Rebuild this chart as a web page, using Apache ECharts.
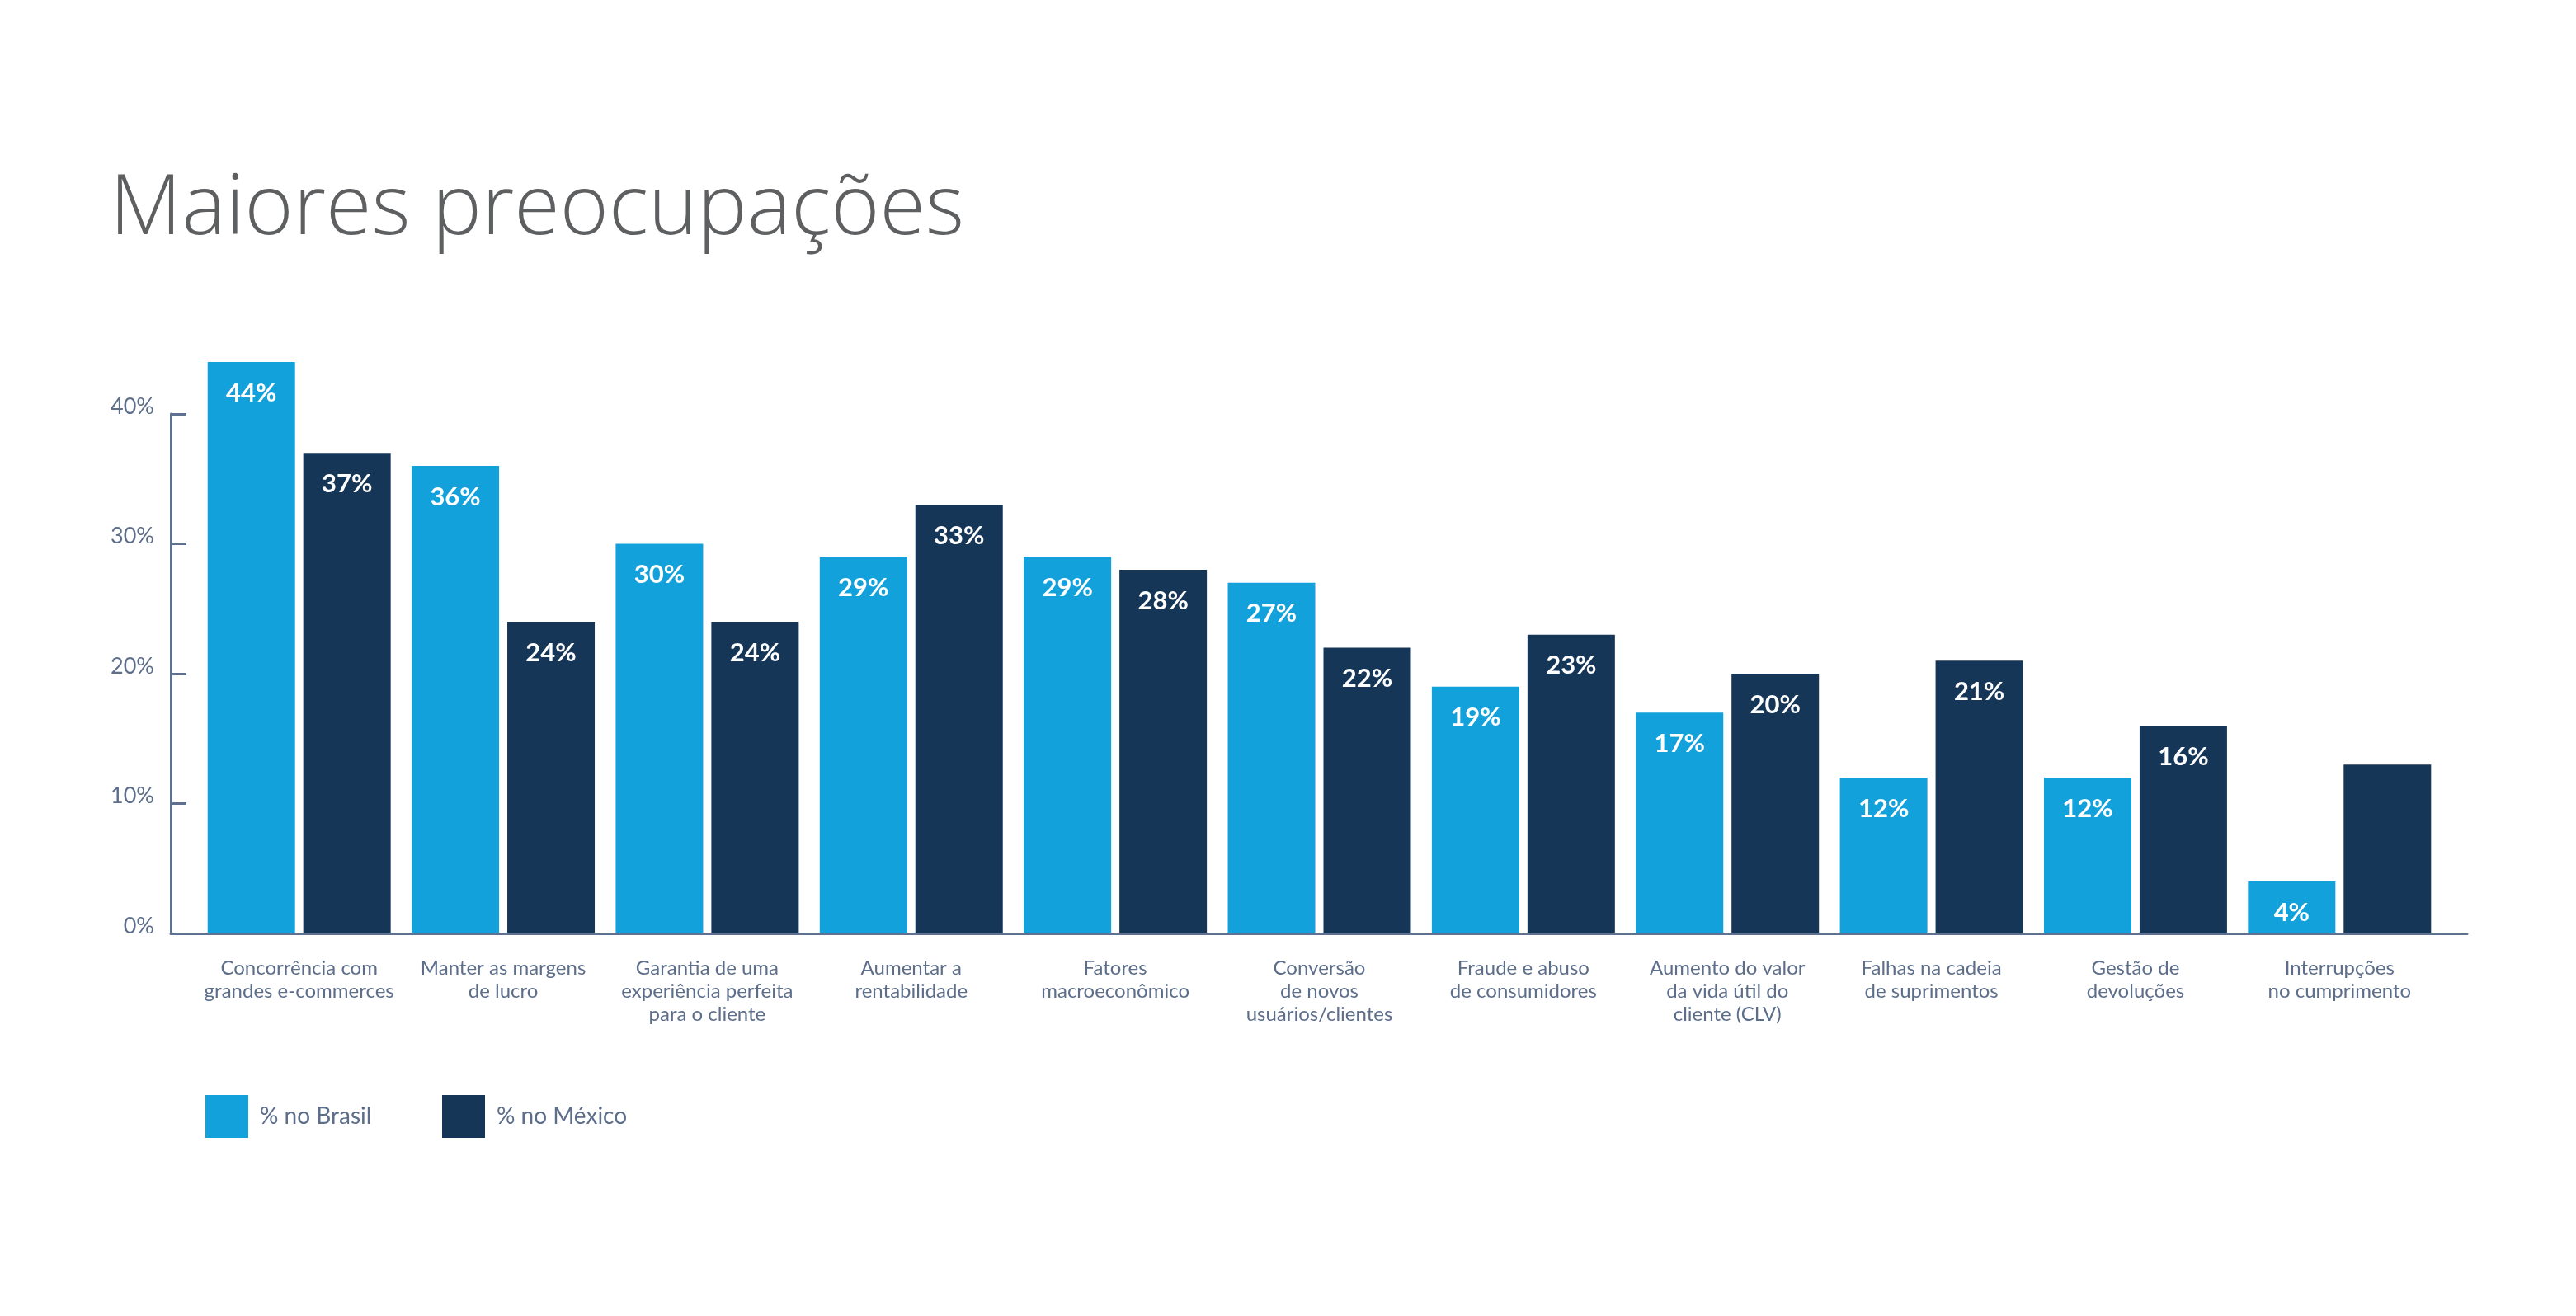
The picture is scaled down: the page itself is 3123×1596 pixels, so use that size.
<!DOCTYPE html>
<html>
<head>
<meta charset="utf-8">
<script src="https://cdn.jsdelivr.net/npm/echarts@6/dist/echarts.min.js"></script>
<style>
html,body{margin:0;padding:0;background:#fff;}
#chart{width:3123px;height:1596px;}
</style>
</head>
<body>
<div id="chart"></div>
<script>
const titleText = 'Maiores preocupações';
const categories = [
  'Concorrência com\ngrandes e-commerces',
  'Manter as margens\nde lucro',
  'Garantia de uma\nexperiência perfeita\npara o cliente',
  'Aumentar a\nrentabilidade',
  'Fatores\nmacroeconômico',
  'Conversão\nde novos\nusuários/clientes',
  'Fraude e abuso\nde consumidores',
  'Aumento do valor\nda vida útil do\ncliente (CLV)',
  'Falhas na cadeia\nde suprimentos',
  'Gestão de\ndevoluções',
  'Interrupções\nno cumprimento'
];
const seriesNames = ['% no Brasil', '% no México'];
const brasilValues = [44, 36, 30, 29, 29, 27, 19, 17, 12, 12, 4];
const mexicoValues = [37, 24, 24, 33, 28, 22, 23, 20, 21, 16, 13];
const mexicoUnlabeled = [10];
const yTicks = [0, 10, 20, 30, 40];

const C_BR = '#13a1db';
const C_MX = '#163657';
const C_AXIS = '#5f7090';
const C_TXT = '#5d6e8a';

const chart = echarts.init(document.getElementById('chart'), null, {renderer: 'canvas'});

const labelStyle = {
  show: true,
  position: 'insideTop',
  distance: 22,
  color: '#ffffff',
  fontFamily: 'Lato',
  fontWeight: 'bold',
  fontSize: 31,
  formatter: p => p.value + '%'
};

const legendText = {fontFamily: 'Lato', fontSize: 28, color: C_TXT, padding: [0, 0, 0, 9]};

const option = {
  animation: false,
  backgroundColor: '#ffffff',
  title: {
    text: titleText,
    left: 128,
    top: 200,
    textStyle: {
      fontFamily: 'Open Sans',
      fontWeight: 300,
      fontSize: 101,
      color: '#5e5f61'
    }
  },
  legend: [
    {
      data: [seriesNames[0]],
      left: 244, top: 1323,
      itemWidth: 52, itemHeight: 52,
      icon: 'rect',
      textStyle: legendText
    },
    {
      data: [seriesNames[1]],
      left: 531, top: 1323,
      itemWidth: 52, itemHeight: 52,
      icon: 'rect',
      textStyle: legendText
    }
  ],
  grid: [
    {left: 207, top: 502, width: 2784, height: 630},
    {left: 239, top: 502, width: 2721, height: 630}
  ],
  xAxis: [
    {
      gridIndex: 0, type: 'category', data: [''],
      axisLine: {show: true, lineStyle: {color: C_AXIS, width: 3}},
      axisTick: {show: false}, axisLabel: {show: false}
    },
    {
      gridIndex: 1, type: 'category', data: categories,
      axisLine: {show: false}, axisTick: {show: false},
      axisLabel: {
        interval: 0, margin: 28,
        fontFamily: 'Lato', fontSize: 24, lineHeight: 28, color: C_TXT, align: 'center'
      }
    }
  ],
  yAxis: [
    {
      gridIndex: 0, type: 'value', min: yTicks[0], max: yTicks[yTicks.length - 1], interval: 10,
      axisLine: {show: true, lineStyle: {color: C_AXIS, width: 3}},
      axisTick: {show: true, inside: true, length: 19, lineStyle: {color: C_AXIS, width: 3}},
      splitLine: {show: false},
      axisLabel: {
        margin: 20, fontFamily: 'Lato', fontSize: 27, color: C_TXT,
        verticalAlign: 'bottom', lineHeight: 18,
        formatter: v => v + '%'
      }
    },
    {
      gridIndex: 1, type: 'value', min: yTicks[0], max: yTicks[yTicks.length - 1], interval: 10,
      show: false
    }
  ],
  series: [
    {
      name: seriesNames[0], type: 'bar', xAxisIndex: 1, yAxisIndex: 1,
      barWidth: 106, barGap: '9.4%', clip: false,
      itemStyle: {color: C_BR},
      label: labelStyle,
      data: brasilValues
    },
    {
      name: seriesNames[1], type: 'bar', xAxisIndex: 1, yAxisIndex: 1,
      barWidth: 106, barGap: '9.4%', clip: false,
      itemStyle: {color: C_MX},
      label: labelStyle,
      data: mexicoValues.map((v, i) => mexicoUnlabeled.includes(i) ? {value: v, label: {show: false}} : v)
    }
  ]
};
chart.setOption(option);
</script>
</body>
</html>
